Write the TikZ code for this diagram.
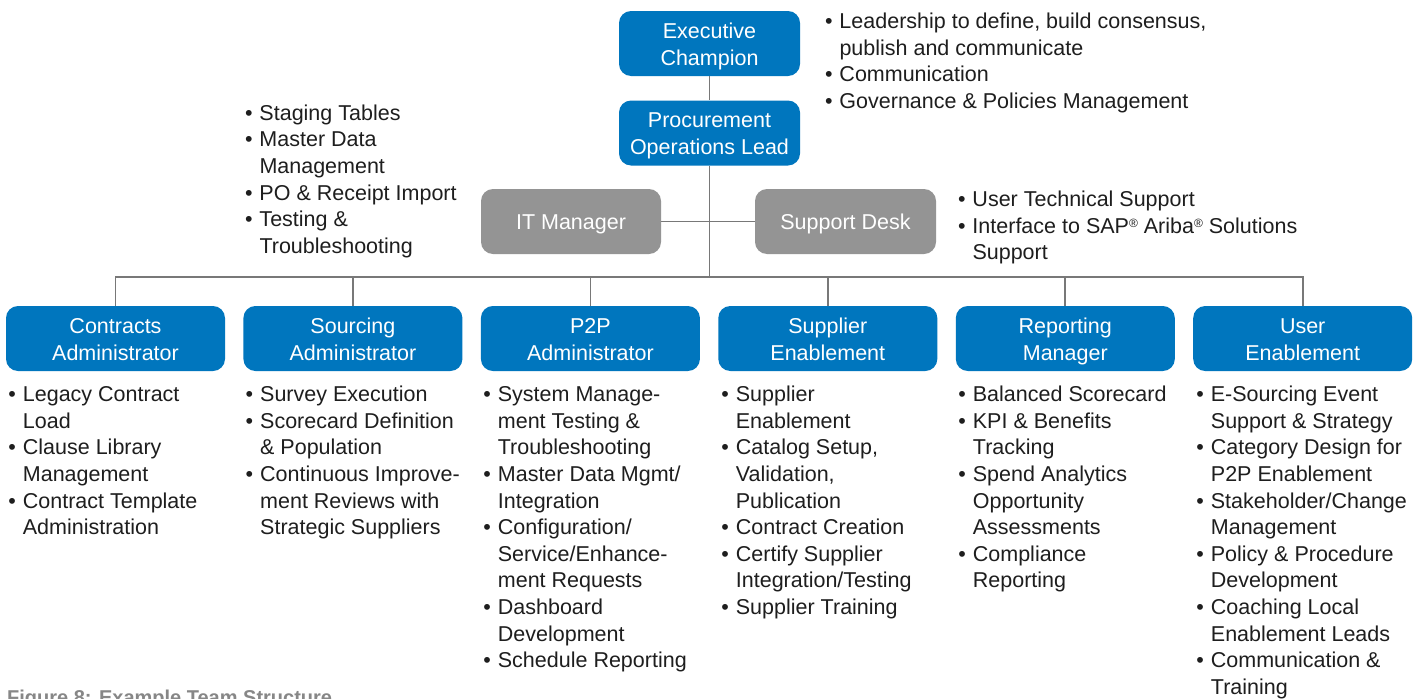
\documentclass[tikz,border=0pt]{standalone}
\usepackage{fontspec}
\setmainfont{Liberation Sans}
\definecolor{sapblue}{RGB}{0,118,190}
\definecolor{boxgray}{RGB}{148,148,148}
\definecolor{linegray}{RGB}{120,120,120}
\definecolor{capgray}{RGB}{135,135,135}
\definecolor{txtcol}{RGB}{30,30,30}
\newcommand\mytop{\rule{0pt}{21.5pt}}
\newcommand\mybot{\rule[-5pt]{0pt}{0pt}}
\newcommand\firstl{\rule{0pt}{18pt}}
\newcommand\mybul{\makebox[14.5pt][l]{\textbullet}}
\newcommand\myind{\hspace*{14.5pt}}
\newcommand\myreg{\raisebox{6pt}{\fontsize{12}{12}\selectfont ®}}
\begin{document}
\begin{tikzpicture}[x=1pt,y=-1pt,
  orgbox/.style={rounded corners=12pt, minimum height=65pt, inner sep=0pt, align=center, text=white, font=\fontsize{21.5}{26.6}\selectfont},
  bluebox/.style={orgbox, fill=sapblue},
  graybox/.style={orgbox, fill=boxgray},
  blist/.style={anchor=north west, inner sep=0pt, align=left, text=txtcol, font=\fontsize{21.5}{26.6}\selectfont},
  conn/.style={draw=linegray, line width=1.8pt}]
\useasboundingbox (0,0) rectangle (1428,699);
\clip (0,0) rectangle (1428,699);
\fill[white] (0,0) rectangle (1428,699);

% top boxes
\node[bluebox, minimum width=181pt] (exec) at (709.5,43.5) {\mytop Executive\\Champion\mybot};
\node[bluebox, minimum width=181pt] (proc) at (709.5,133) {\mytop Procurement\\Operations Lead\mybot};
\node[graybox, minimum width=180pt] (it) at (571,221.5) {\mytop IT Manager\mybot};
\node[graybox, minimum width=181pt] (sd) at (845.5,221.5) {\mytop Support Desk\mybot};

% bottom boxes
\node[bluebox, minimum width=219pt] (b1) at (115.5,338.5) {\mytop Contracts\\Administrator\mybot};
\node[bluebox, minimum width=219pt] (b2) at (352.9,338.5) {\mytop Sourcing\\Administrator\mybot};
\node[bluebox, minimum width=219pt] (b3) at (590.4,338.5) {\mytop P2P\\Administrator\mybot};
\node[bluebox, minimum width=219pt] (b4) at (827.8,338.5) {\mytop Supplier\\Enablement\mybot};
\node[bluebox, minimum width=219pt] (b5) at (1065.3,338.5) {\mytop Reporting\\Manager\mybot};
\node[bluebox, minimum width=219pt] (b6) at (1302.7,338.5) {\mytop User\\Enablement\mybot};

% connectors
\coordinate (busy) at (0,277);
\draw[conn] (exec.south) -- (proc.north);
\draw[conn] (proc.south) -- (proc.south |- busy);
\draw[conn] (it.east) -- (it.east -| proc.south);
\draw[conn] (sd.west) -- (sd.west -| proc.south);
\draw[conn] (b1.north) -- (b1.north |- busy) -- (b6.north |- busy) -- (b6.north);
\foreach \b in {b2,b3,b4,b5} \draw[conn] (\b.north) -- (\b.north |- busy);

% side lists
\node[blist] (lexec) at (824.8,10.3) {\mybul\firstl Leadership to define, build consensus,\\
\myind publish and communicate\\
\mybul Communication\\
\mybul Governance \& Policies Management};
\node[blist] (lit) at (244.8,102) {\mybul\firstl Staging Tables\\
\mybul Master Data\\
\myind Management\\
\mybul PO \& Receipt Import\\
\mybul Testing \&\\
\myind Troubleshooting};
\node[blist] (lsd) at (957.8,188.5) {\mybul\firstl User Technical Support\\
\mybul Interface to SAP\myreg{} Ariba\myreg{} Solutions\\
\myind Support};

% bottom lists
\node[blist] (l1) at (8.2,383.5) {\mybul\firstl Legacy Contract\\
\myind Load\\
\mybul Clause Library\\
\myind Management\\
\mybul Contract Template\\
\myind Administration};
\node[blist] (l2) at (245.5,383.5) {\mybul\firstl Survey Execution\\
\mybul Scorecard Definition\\
\myind \& Population\\
\mybul Continuous Improve-\\
\myind ment Reviews with\\
\myind Strategic Suppliers};
\node[blist] (l3) at (483.2,383.5) {\mybul\firstl System Manage-\\
\myind ment Testing \&\\
\myind Troubleshooting\\
\mybul Master Data Mgmt/\\
\myind Integration\\
\mybul Configuration/\\
\myind Service/Enhance-\\
\myind ment Requests\\
\mybul Dashboard\\
\myind Development\\
\mybul Schedule Reporting};
\node[blist] (l4) at (721.2,383.5) {\mybul\firstl Supplier\\
\myind Enablement\\
\mybul Catalog Setup,\\
\myind Validation,\\
\myind Publication\\
\mybul Contract Creation\\
\mybul Certify Supplier\\
\myind Integration/Testing\\
\mybul Supplier Training};
\node[blist] (l5) at (958.2,383.5) {\mybul\firstl Balanced Scorecard\\
\mybul KPI \& Benefits\\
\myind Tracking\\
\mybul Spend Analytics\\
\myind Opportunity\\
\myind Assessments\\
\mybul Compliance\\
\myind Reporting};
\node[blist] (l6) at (1196.2,383.5) {\mybul\firstl E-Sourcing Event\\
\myind Support \& Strategy\\
\mybul Category Design for\\
\myind P2P Enablement\\
\mybul Stakeholder/Change\\
\myind Management\\
\mybul Policy \& Procedure\\
\myind Development\\
\mybul Coaching Local\\
\myind Enablement Leads\\
\mybul Communication \&\\
\myind Training};

% caption
\node[anchor=base west, inner sep=0pt, text=capgray, font=\fontsize{20}{24}\selectfont\bfseries] (cap) at (7,704.5) {Figure 8: Example Team Structure};
\end{tikzpicture}
\end{document}
